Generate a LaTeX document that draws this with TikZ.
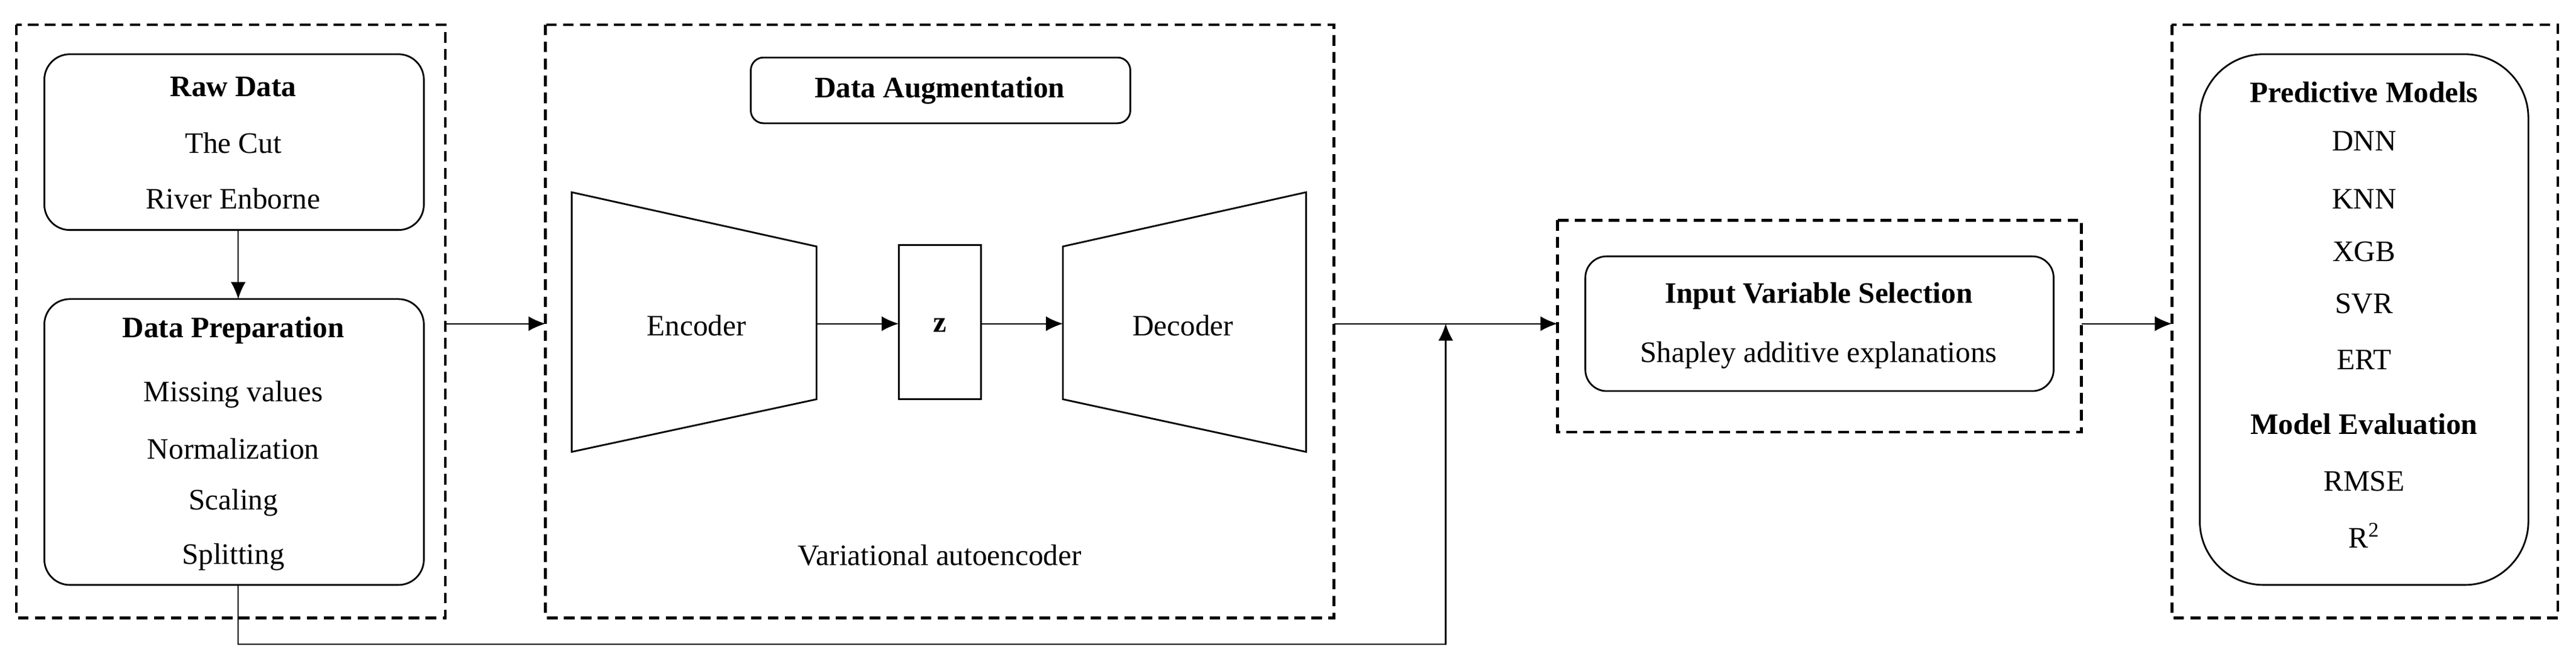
\documentclass[tikz,border=0pt]{standalone}
\usepackage{fontspec}
\setmainfont{Liberation Serif}
\usetikzlibrary{positioning,arrows.meta}
\begin{document}
\begin{tikzpicture}[x=0.02719cm,y=-0.02719cm,font=\fontsize{14}{16}\selectfont,
  group/.style={draw,line width=1.3pt,dash pattern=on 5pt off 3pt},
  box/.style={draw,thick,rounded corners=12pt},
  arr/.style={semithick,-{Latex[length=8pt,width=7pt]}},
  lbl/.style={inner sep=0pt}]
\useasboundingbox (0,0) rectangle (1568,405);
% stages
\draw[group] (10,15) rectangle (271,376);
\draw[group] (332,15) rectangle (812,376);
\draw[group] (948,134) rectangle (1267,263);
\draw[group] (1322,15) rectangle (1557,376);
% raw data and preparation
\draw[box] (27,33) rectangle (258,140);
\node[lbl] (raw) at (142,53) {\textbf{Raw Data}};
\node[lbl] at (142,87) {The Cut};
\node[lbl] at (142,121) {River Enborne};
\draw[box] (27,182) rectangle (258,356);
\node[lbl] at (142,201) {\textbf{Data Preparation}};
\node[lbl] at (142,240) {Missing values};
\node[lbl] at (142,273) {Normalization};
\node[lbl] at (142,306) {Scaling};
\node[lbl] at (142,339) {Splitting};
\coordinate (rawb) at (145,140);
\coordinate (prept) at (145,182);
\coordinate (prepb) at (145,356);
\draw[arr] (rawb) -- (prept);
% augmentation
\draw[thick,rounded corners=6pt] (457,35) rectangle (688,75);
\node[lbl] (aug) at (572,55) {\textbf{Data Augmentation}};
\draw[thick] (348,117) -- (497,150) -- (497,243) -- (348,275) -- cycle;
\node[lbl] (enc) at (424,198) {Encoder};
\draw[thick] (547,149) rectangle (597,243);
\node[lbl] (z) at (572,198) {\textbf{z}};
\draw[thick] (647,150) -- (795,117) -- (795,275) -- (647,243) -- cycle;
\node[lbl] (dec) at (720,198) {Decoder};
\node[lbl] at (572,338) {Variational autoencoder};
\coordinate (encr) at (497,197);
\coordinate (zl) at (547,197);
\coordinate (zr) at (597,197);
\coordinate (decl) at (647,197);
\draw[arr] (encr) -- (zl);
\draw[arr] (zr) -- (decl);
% selection
\draw[thick,rounded corners=10pt] (965,156) rectangle (1250,238);
\node[lbl] at (1107,180) {\textbf{Input Variable Selection}};
\node[lbl] at (1107,216) {Shapley additive explanations};
% models
\draw[thick,rounded corners=30pt] (1339,33) rectangle (1539,356);
\node[lbl] at (1439,56) {\textbf{Predictive Models}};
\node[lbl] at (1439,86) {DNN};
\node[lbl] at (1439,121) {KNN};
\node[lbl] at (1439,153) {XGB};
\node[lbl] at (1439,185) {SVR};
\node[lbl] at (1439,219) {ERT};
\node[lbl] at (1439,258) {\textbf{Model Evaluation}};
\node[lbl] at (1439,293) {RMSE};
\node[lbl] at (1439,326) {R\textsuperscript{2}};
% connectors between stages
\coordinate (g1r) at (271,197);
\coordinate (g2l) at (332,197);
\coordinate (g2r) at (812,197);
\coordinate (g3l) at (948,197);
\coordinate (g3r) at (1267,197);
\coordinate (g4l) at (1322,197);
\coordinate (join) at (880,197);
\draw[arr] (g1r) -- (g2l);
\draw[arr] (g2r) -- (g3l);
\draw[arr] (g3r) -- (g4l);
\draw[arr] (prepb) |- (880,392) -- (join);
\end{tikzpicture}
\end{document}
